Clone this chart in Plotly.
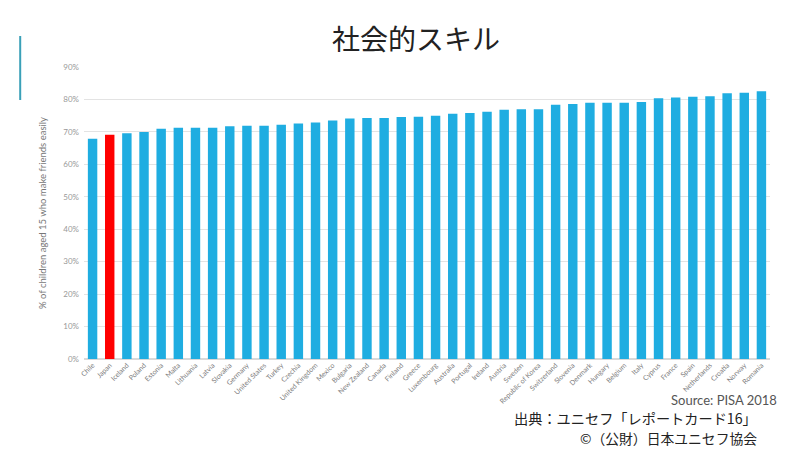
import plotly.graph_objects as go

countries = ["Chile", "Japan", "Iceland", "Poland", "Estonia", "Malta", "Lithuania", "Latvia",
             "Slovakia", "Germany", "United States", "Turkey", "Czechia", "United Kingdom",
             "Mexico", "Bulgaria", "New Zealand", "Canada", "Finland", "Greece", "Luxembourg",
             "Australia", "Portugal", "Ireland", "Austria", "Sweden", "Republic of Korea",
             "Switzerland", "Slovenia", "Denmark", "Hungary", "Belgium", "Italy", "Cyprus",
             "France", "Spain", "Netherlands", "Croatia", "Norway", "Romania"]
values = [67.9, 69.1, 69.6, 70.0, 71.0, 71.3, 71.3, 71.3, 71.7, 71.9, 71.9, 72.2, 72.6, 72.9,
          73.5, 74.1, 74.3, 74.3, 74.6, 74.7, 75.0, 75.6, 75.8, 76.2, 76.8, 77.0, 77.0,
          78.4, 78.6, 79.0, 79.0, 79.0, 79.2, 80.4, 80.6, 80.8, 81.0, 81.9, 82.1, 82.5]
highlight = "Japan"
y_ticks = [0, 10, 20, 30, 40, 50, 60, 70, 80, 90]

colors = ["#FF0000" if c == highlight else "#1FADE1" for c in countries]

fig = go.Figure(go.Bar(x=countries, y=[v / 100 for v in values], marker_color=colors,
                       marker_line_width=0))

fig.update_layout(
    width=800, height=450,
    margin=dict(l=84, r=30, t=67, b=91),
    paper_bgcolor="white", plot_bgcolor="white",
    bargap=0.45,
    showlegend=False,
    font=dict(family="Lato, sans-serif", color="#888888"),
    title=dict(text="社会的スキル", x=0.52, xanchor="center", y=0.91, yanchor="middle",
               font=dict(family="Noto Sans CJK JP", size=28, color="#222222")),
)
fig.update_xaxes(tickangle=-45, tickfont=dict(size=7, color="#808080"), showgrid=False,
                 showline=False, ticks="", automargin=False)
fig.update_yaxes(range=[0, 0.9], tickvals=[t / 100 for t in y_ticks],
                 ticktext=[f"{t}%" for t in y_ticks], tickfont=dict(size=8, color="#999999"),
                 showgrid=True, gridcolor="#E3E3E3", gridwidth=1, zeroline=True,
                 zerolinecolor="#D9D9D9", ticklabelstandoff=4, automargin=False,
                 title=dict(text="% of children aged 15 who make friends easily",
                            font=dict(size=9.5, color="#777777"), standoff=14))

fig.add_shape(type="line", xref="paper", yref="paper", x0=-0.093, x1=-0.093,
              y0=(450 - 100 - 91) / 292, y1=(450 - 36 - 91) / 292,
              line=dict(color="#3AA0B8", width=2))

fig.add_annotation(text="Source: PISA 2018", xref="paper", yref="paper", x=1.013, y=-0.14,
                   xanchor="right", yanchor="middle", showarrow=False,
                   font=dict(family="Lato, sans-serif", size=13, color="#555555"))
fig.add_annotation(text="出典：ユニセフ「レポートカード16」", xref="paper", yref="paper",
                   x=0.624, y=-0.203, xanchor="left", yanchor="middle", showarrow=False,
                   font=dict(family="Noto Sans CJK JP", size=14.2, color="#222222"))
fig.add_annotation(text="©（公財）日本ユニセフ協会", xref="paper", yref="paper",
                   x=0.72, y=-0.27, xanchor="left", yanchor="middle", showarrow=False,
                   font=dict(family="Noto Sans CJK JP", size=13.8, color="#222222"))

fig.write_html("out.html", post_script="document.body.style.margin='0';",
               config={"displayModeBar": False})
